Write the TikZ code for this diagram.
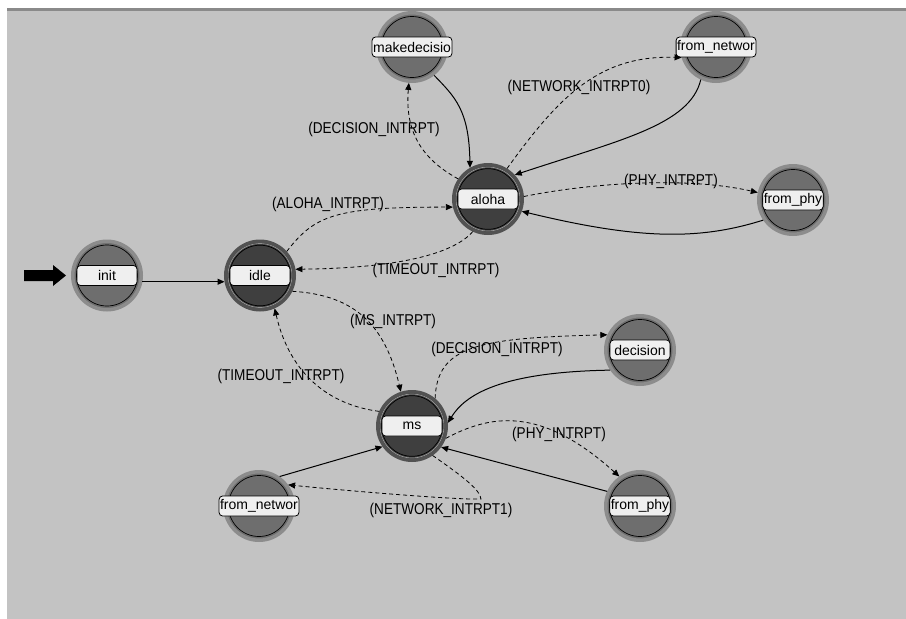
\documentclass[tikz,border=0pt]{standalone}
\usepackage{fontspec}
\usepackage{graphicx}
\setmainfont{Liberation Sans}
\usetikzlibrary{arrows.meta}
\definecolor{bggray}{HTML}{C3C3C3}
\definecolor{topline}{HTML}{8A8A8A}
\definecolor{ringlt}{HTML}{8C8C8C}
\definecolor{fillmid}{HTML}{6E6E6E}
\definecolor{ringdk}{HTML}{525252}
\definecolor{filldk}{HTML}{3F3F3F}
\definecolor{hl}{HTML}{9A9A9A}
\definecolor{boxfill}{HTML}{EFEFEF}
\newcommand\tlab[1]{\scalebox{0.97}[1.12]{#1}}
\begin{document}
\begin{tikzpicture}[x=1pt,y=-1pt,font=\fontsize{14}{16}\selectfont,
  stbase/.style={circle,minimum size=68.5pt,inner sep=0pt,outer sep=1.75pt,line width=3.5pt},
  unforced/.style={stbase,draw=ringlt,fill=fillmid,
    path picture={\draw[black,line width=0.7pt] (path picture bounding box.center) circle[radius=30.5pt];}},
  forced/.style={stbase,draw=ringdk,fill=filldk,
    path picture={\draw[hl,line width=0.7pt] (path picture bounding box.center) circle[radius=32pt];
                  \draw[black,line width=0.7pt] (path picture bounding box.center) circle[radius=30.3pt];}},
  lbox/.style={draw=black,fill=boxfill,line width=0.8pt,rounded corners=3.5pt,minimum width=60pt,
    minimum height=20pt,inner xsep=1pt,inner ysep=0pt},
  tr/.style={line width=0.8pt,-{Triangle[length=7pt,width=6pt]}},
  dsh/.style={tr,dash pattern=on 4pt off 3pt},
  sol/.style={tr,line width=1pt},
  elab/.style={inner sep=0pt}
]
\useasboundingbox (0,0) rectangle (906,619);
\fill[white] (0,0) rectangle (906,619);
\fill[bggray] (7,8) rectangle (906,619);
\fill[topline] (7,8) rectangle (906,10.5);

% states
\node[unforced] (init) at (107,275.5) {};
\node[forced]   (idle) at (260,275.5) {};
\node[forced]   (aloha) at (488,199) {};
\node[unforced] (mkd) at (412,47) {};
\node[unforced] (fnt) at (716,47) {};
\node[unforced] (fpt) at (793,200) {};
\node[forced]   (ms) at (412,426) {};
\node[unforced] (dec) at (640,350) {};
\node[unforced] (fnb) at (259,506) {};
\node[unforced] (fpb) at (640,506) {};

\node[lbox] (init-t) at (init) {init};
\node[lbox] (idle-t) at (idle) {idle};
\node[lbox] (aloha-t) at (aloha) {aloha};
\node[lbox] (mkd-t) at (mkd) {makedecisio};
\node[lbox] (fnt-t) at (fnt) {from\_networ};
\node[lbox] (fpt-t) at (fpt) {from\_phy};
\node[lbox] (ms-t) at (ms) {ms};
\node[lbox] (dec-t) at (dec) {decision};
\node[lbox] (fnb-t) at (fnb) {from\_networ};
\node[lbox] (fpb-t) at (fpb) {from\_phy};

% entry arrow
\fill[black] (24,270) -- (53,270) -- (53,265) -- (66,275.5) -- (53,286) -- (53,281) -- (24,281) -- cycle;

% transitions
\draw[sol] (init.-10) -- (idle.190);
\draw[dsh] (idle.42) .. controls (315,215) and (335,207) .. (aloha.193);
\draw[dsh] (aloha.245) .. controls (455,252) and (405,268) .. (idle.10);
\draw[dsh] (aloha.146) .. controls (420,158) and (405,130) .. (mkd.265);
\draw[sol] (mkd.-52) .. controls (455,97) and (469,110) .. (aloha.120);
\draw[dsh] (aloha.58) .. controls (560,95) and (600,55) .. (fnt.197);
\draw[sol] (fnt.245) .. controls (690,125) and (620,140) .. (aloha.42);
\draw[dsh] (aloha.4) .. controls (580,185) and (680,175) .. (fpt.168);
\draw[sol] (fpt.214) .. controls (700,240) and (640,240) .. (aloha.-20);
\draw[dsh] (idle.-26) .. controls (355,295) and (385,325) .. (ms.108);
\draw[dsh] (ms.156) .. controls (330,405) and (290,375) .. (idle.-66);
\draw[dsh] (ms.50) .. controls (437,345) and (480,338) .. (dec.155);
\draw[sol] (dec.214) .. controls (500,372) and (465,395) .. (ms.5);
\draw[dsh] (ms.-20) .. controls (490,415) and (540,405) .. (fpb.125);
\draw[sol] (fpb.156) -- (ms.-36);
\draw[sol] (fnb.55) -- (ms.215);
\draw[dsh] (ms.-55) .. controls (465,478) and (480,490) .. (481,499) .. controls (460,500) and (360,492) .. (fnb.36);

% transition labels
\node[elab] (l1) at (328,204) {\tlab{(ALOHA\_INTRPT)}};
\node[elab] (l2) at (436,270) {\tlab{(TIMEOUT\_INTRPT)}};
\node[elab] (l3) at (374,129) {\tlab{(DECISION\_INTRPT)}};
\node[elab] (l4) at (579,87) {\tlab{(NETWORK\_INTRPT0)}};
\node[elab] (l5) at (671,181) {\tlab{(PHY\_INTRPT)}};
\node[elab] (l6) at (393,321) {\tlab{(MS\_INTRPT)}};
\node[elab] (l7) at (281,376) {\tlab{(TIMEOUT\_INTRPT)}};
\node[elab] (l8) at (497,349.5) {\tlab{(DECISION\_INTRPT)}};
\node[elab] (l9) at (559,434) {\tlab{(PHY\_INTRPT)}};
\node[elab] (l10) at (441,510) {\tlab{(NETWORK\_INTRPT1)}};
\end{tikzpicture}
\end{document}
